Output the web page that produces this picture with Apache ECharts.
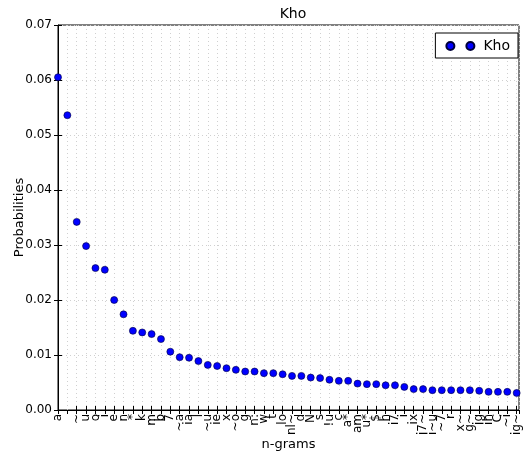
<!DOCTYPE html>
<html>
<head>
<meta charset="utf-8">
<script src="https://cdn.jsdelivr.net/npm/echarts@6/dist/echarts.min.js"></script>
<style>
  html, body { margin: 0; padding: 0; background: #fff; }
  #chart { width: 524px; height: 454px; }
</style>
</head>
<body>
<div id="chart"></div>
<script>
// n-gram labels (read bottom-to-top in the picture)
var ngrams = ["a", "à", "~", "u", "o", "i", "e", "n", "*", "k",
  "m", "b", "7", "~a", "ia", "l", "~u", "ie", "x", "~o",
  "g", "n:", "w", "t", "lo", "nl~", "d", "N", "s", "!u",
  "c", "a*", "am", "u*", "$", "h", "i7", "i", "ix", "i7~",
  "i~u", "~7", "r", "x~", "g~", "ig", "ih", "C", "~i", "ig~"];

var probs = [0.0605, 0.0536, 0.0342, 0.0298, 0.0258, 0.0255, 0.0200, 0.0174, 0.0144, 0.0141,
  0.0138, 0.0129, 0.0106, 0.0096, 0.0095, 0.0089, 0.0082, 0.0080, 0.0076, 0.0073,
  0.0070, 0.0070, 0.0067, 0.0067, 0.0065, 0.0062, 0.0062, 0.0059, 0.0058, 0.0055,
  0.0053, 0.0053, 0.0048, 0.0047, 0.0047, 0.0045, 0.0045, 0.0042, 0.0038, 0.0038,
  0.0036, 0.0036, 0.0036, 0.0036, 0.0036, 0.0035, 0.0033, 0.0033, 0.0033, 0.0031];

var myChart = echarts.init(document.getElementById("chart"));

var points = probs.map(function (v, i) { return [i, v]; });
var font = "DejaVu Sans";
var dotted = { show: true, lineStyle: { color: "#d0d0d0", type: [1, 3], width: 1 } };

var option = {
  animation: false,
  textStyle: { fontFamily: font },
  title: {
    text: "Kho",
    left: 288,
    top: 2,
    textAlign: "center",
    textStyle: { fontSize: 14, fontWeight: "normal", color: "#000", fontFamily: font }
  },
  legend: {
    right: 6,
    top: 33,
    data: ["Kho"],
    icon: "path://M0,4a4,4 0 1,0 8,0a4,4 0 1,0 -8,0M20,4a4,4 0 1,0 8,0a4,4 0 1,0 -8,0",
    itemWidth: 28,
    itemHeight: 8,
    itemGap: 4,
    padding: [6, 8, 5, 10],
    borderColor: "#000",
    borderWidth: 1,
    borderRadius: 0,
    backgroundColor: "#fff",
    textStyle: { fontSize: 14, color: "#000", fontFamily: font, padding: [0, 0, 0, 4] }
  },
  grid: {
    left: 58, right: 5, top: 25, bottom: 44,
    outerBoundsMode: "none",
    containLabel: false,
    show: true, borderColor: "#000", borderWidth: 1, backgroundColor: "#fff"
  },
  xAxis: [{
    type: "value",
    min: 0, max: 49.25, interval: 1,
    name: "n-grams",
    nameLocation: "middle",
    nameGap: 28,
    nameMoveOverlap: false,
    nameTextStyle: { fontSize: 13, color: "#000", fontFamily: font },
    axisLine: { lineStyle: { color: "#000" } },
    axisTick: { inside: true, length: 4, lineStyle: { color: "#000" } },
    axisLabel: {
      rotate: 90, fontSize: 12, color: "#000", margin: 4,
      showMinLabel: true, showMaxLabel: false, hideOverlap: false,
      formatter: function (v) { return ngrams[v] !== undefined ? ngrams[v] : ""; }
    },
    splitLine: dotted
  }, {
    type: "value", position: "top",
    min: 0, max: 49.25, interval: 1,
    axisLine: { show: false },
    axisTick: { inside: true, length: 4, lineStyle: { color: "#000" } },
    axisLabel: { show: false },
    splitLine: { show: false }
  }],
  yAxis: [{
    type: "value",
    min: 0, max: 0.07, interval: 0.01,
    name: "Probabilities",
    nameLocation: "middle",
    nameGap: 32,
    nameMoveOverlap: false,
    nameTextStyle: { fontSize: 13, color: "#000", fontFamily: font },
    axisLine: { show: true, lineStyle: { color: "#000" } },
    axisTick: { inside: true, length: 4, lineStyle: { color: "#000" } },
    axisLabel: {
      fontSize: 12, color: "#000", margin: 6,
      formatter: function (v) { return v.toFixed(2); }
    },
    splitLine: dotted
  }, {
    type: "value", position: "right",
    min: 0, max: 0.07, interval: 0.01,
    axisLine: { show: false },
    axisTick: { inside: true, length: 4, lineStyle: { color: "#000" } },
    axisLabel: { show: false },
    splitLine: { show: false }
  }],
  series: [{
    name: "Kho",
    type: "scatter",
    xAxisIndex: 0,
    yAxisIndex: 0,
    symbol: "circle",
    symbolSize: 7,
    itemStyle: { color: "#0000ff", borderColor: "#00003a", borderWidth: 0.6, opacity: 1 },
    data: points
  }]
};

myChart.setOption(option);
</script>
</body>
</html>
